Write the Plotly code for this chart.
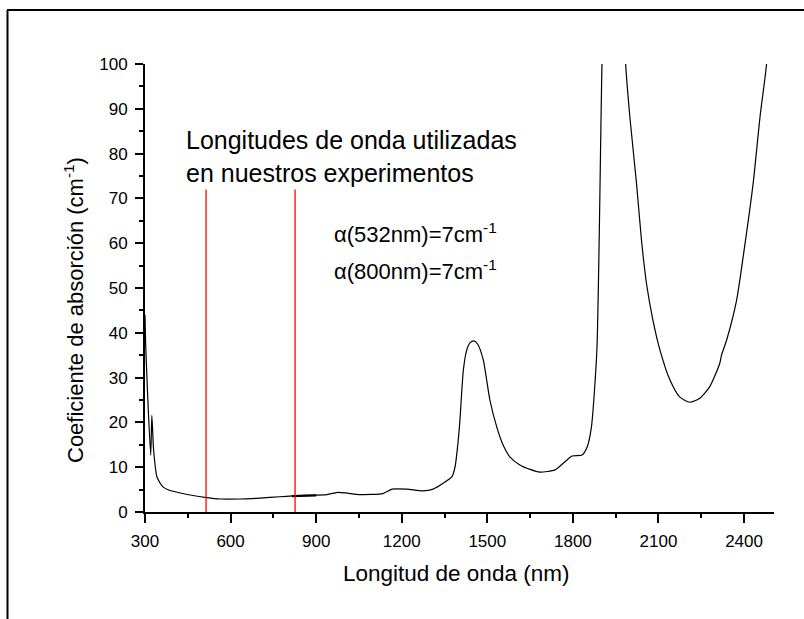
import plotly.graph_objects as go

# Absorption spectrum (nm, cm^-1)
wavelength = [300, 302, 310, 320, 324, 330, 342, 363, 388, 420, 458, 517, 563, 633, 703,
              773, 819, 860, 938, 977, 1010, 1054, 1134, 1166, 1218, 1274, 1310, 1345,
              1376, 1387, 1398, 1404, 1416, 1428, 1440, 1453, 1466, 1486, 1509, 1533,
              1555, 1579, 1614, 1650, 1684, 1737, 1772, 1797, 1832, 1850, 1865, 1884,
              1902, 1920, 1950, 1975, 1985, 2000, 2023, 2040, 2058, 2080, 2105, 2140,
              2174, 2210, 2245, 2280, 2315, 2321, 2339, 2374, 2397, 2432, 2456, 2479,
              2490]
absorption = [44, 38, 25, 12.7, 21.6, 14, 7.8, 5.6, 4.8, 4.3, 3.8, 3.2, 2.9, 2.9, 3.1,
              3.4, 3.6, 3.7, 3.9, 4.4, 4.2, 3.9, 4.1, 5.1, 5.1, 4.7, 5.1, 6.4,
              7.9, 10.1, 16, 20.5, 31.7, 36.2, 37.8, 38.2, 37.5, 33.9, 25, 19,
              15, 12.3, 10.5, 9.5, 8.9, 9.4, 11.2, 12.5, 12.7, 14.5, 19, 36,
              100, 140, 170, 130, 100, 88, 73.4, 61, 51, 43, 36.2, 29.5,
              25.7, 24.5, 25.4, 28, 33.2, 35, 38.4, 47.3, 57, 73.4, 88.2, 100,
              112]

# Small overlapping segment of the spectrum (thicker piece)
overlap_x = [815, 900]
overlap_y = [3.55, 3.7]

# Marked wavelengths (red vertical lines)
marker_x = [514, 826]
marker_top = [72, 72]

x_ticks = [300, 600, 900, 1200, 1500, 1800, 2100, 2400]
y_ticks = [0, 10, 20, 30, 40, 50, 60, 70, 80, 90, 100]

W, H = 804, 619
L, R, T, B = 145, 30, 64, 107
PW, PH = W - L - R, H - T - B


def px(x):
    return (x - L) / PW


def py(y):
    return (H - B - y) / PH


fig = go.Figure()
fig.add_trace(go.Scatter(x=wavelength, y=absorption, mode="lines",
                         line=dict(color="black", width=1.2, shape="spline", smoothing=0.6),
                         showlegend=False))
fig.add_trace(go.Scatter(x=overlap_x, y=overlap_y, mode="lines",
                         line=dict(color="black", width=2.2), showlegend=False))
for mx, mt in zip(marker_x, marker_top):
    fig.add_trace(go.Scatter(x=[mx, mx], y=[0, mt], mode="lines",
                             line=dict(color="red", width=1.3), showlegend=False))

font = "Liberation Sans, Arial, sans-serif"

fig.update_layout(
    width=W, height=H,
    margin=dict(l=L, r=R, t=T, b=B),
    paper_bgcolor="white", plot_bgcolor="white",
    font=dict(family=font, color="black"),
    xaxis=dict(range=[300, 2505], showgrid=False, zeroline=False,
               showline=True, linecolor="black", linewidth=2,
               ticks="outside", ticklen=9, tickwidth=1.8, tickcolor="black",
               tickvals=x_ticks, ticktext=[str(v) for v in x_ticks],
               tickfont=dict(size=17), ticklabelstandoff=4,
               minor=dict(ticks="outside", ticklen=4, tickwidth=1.5,
                          tickcolor="black", tick0=300, dtick=150)),
    yaxis=dict(range=[0, 100], showgrid=False, zeroline=False,
               showline=True, linecolor="black", linewidth=2,
               ticks="outside", ticklen=8, tickwidth=1.8, tickcolor="black",
               tickvals=y_ticks, ticktext=[str(v) for v in y_ticks],
               tickfont=dict(size=17), ticklabelstandoff=4,
               minor=dict(ticks="outside", ticklen=4, tickwidth=1.5,
                          tickcolor="black", tick0=0, dtick=5)),
)

ann = [
    dict(text="Longitud de onda (nm)", x=px(456), y=py(573), size=22.5, xanchor="center", angle=0),
    dict(text="Coeficiente de absorción (cm<sup>-1</sup>)", x=px(74), y=py(310), size=22,
         xanchor="center", angle=-90),
    dict(text="Longitudes de onda utilizadas", x=px(184), y=py(140), size=25, xanchor="left", angle=0),
    dict(text="en nuestros experimentos", x=px(184), y=py(173), size=25, xanchor="left", angle=0),
    dict(text="α(532nm)=7cm<sup>-1</sup>", x=px(332), y=py(233), size=22, xanchor="left", angle=0),
    dict(text="α(800nm)=7cm<sup>-1</sup>", x=px(332), y=py(270), size=22, xanchor="left", angle=0),
]
for a in ann:
    fig.add_annotation(text=a["text"], xref="paper", yref="paper", x=a["x"], y=a["y"],
                       xanchor=a["xanchor"], yanchor="middle", showarrow=False,
                       textangle=a["angle"], font=dict(size=a["size"], family=font, color="black"))

# Outer frame (top and left edges visible)
fig.add_shape(type="line", xref="paper", yref="paper", x0=px(7), x1=px(810), y0=py(10), y1=py(10),
              line=dict(color="black", width=2))
fig.add_shape(type="line", xref="paper", yref="paper", x0=px(7.5), x1=px(7.5), y0=py(10), y1=py(625),
              line=dict(color="black", width=2))

fig.write_html("out.html")
